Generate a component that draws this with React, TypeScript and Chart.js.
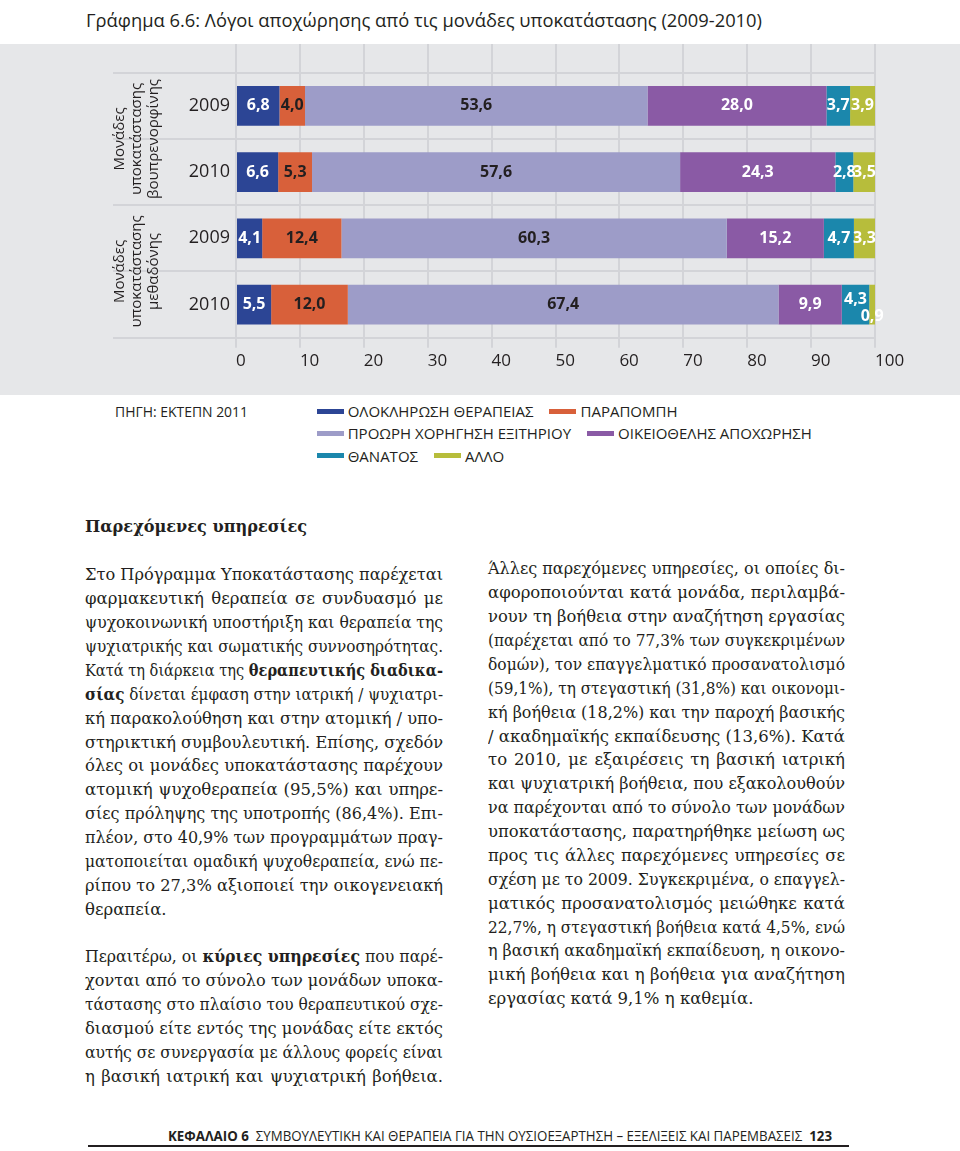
import React, { useEffect, useLayoutEffect, useRef } from 'react';
import { Chart, registerables } from 'chart.js';

Chart.register(...registerables);

const SANS = '"Open Sans", "Noto Sans", sans-serif';
const SERIF = '"DejaVu Serif", serif';
const INK = '#231f20';
const BG = '#e6e7e9';
const GRID = '#d3d4d8';

// ---------- chart data ----------
const chartTitle = 'Γράφημα 6.6: Λόγοι αποχώρησης από τις μονάδες υποκατάστασης (2009-2010)';
const categories = ['2009', '2010', '2009', '2010'];
const groupLabels = [
  ['Μονάδες', 'υποκατάστασης', 'βουπρενορφίνης'],
  ['Μονάδες', 'υποκατάστασης', 'μεθαδόνης'],
];
const seriesNames = [
  'ΟΛΟΚΛΗΡΩΣΗ ΘΕΡΑΠΕΙΑΣ',
  'ΠΑΡΑΠΟΜΠΗ',
  'ΠΡΟΩΡΗ ΧΟΡΗΓΗΣΗ ΕΞΙΤΗΡΙΟΥ',
  'ΟΙΚΕΙΟΘΕΛΗΣ ΑΠΟΧΩΡΗΣΗ',
  'ΘΑΝΑΤΟΣ',
  'ΑΛΛΟ',
];
const completion = [6.8, 6.6, 4.1, 5.5];
const referral = [4.0, 5.3, 12.4, 12.0];
const earlyDischarge = [53.6, 57.6, 60.3, 67.4];
const voluntaryLeave = [28.0, 24.3, 15.2, 9.9];
const death = [3.7, 2.8, 4.7, 4.3];
const other = [3.9, 3.5, 3.3, 0.9];
const seriesValues = [completion, referral, earlyDischarge, voluntaryLeave, death, other];
const seriesColors = ['#2c4595', '#d8603a', '#9d9cc8', '#8a5aa5', '#1b87ac', '#b7bd3b'];
const labelColors = ['#ffffff', INK, INK, '#ffffff', '#ffffff', '#ffffff'];
const xMin = 0;
const xMax = 100;
const xStep = 10;
const sourceText = 'ΠΗΓΗ: ΕΚΤΕΠΝ 2011';
const legendRows = [[0, 1], [2, 3], [4, 5]];

// ---------- page text ----------
const heading = 'Παρεχόμενες υπηρεσίες';
const column1 = [
  'Στο Πρόγραμμα Υποκατάστασης παρέχεται',
  'φαρμακευτική θεραπεία σε συνδυασμό με',
  'ψυχοκοινωνική υποστήριξη και θεραπεία της',
  'ψυχιατρικής και σωματικής συννοσηρότητας.',
  'Κατά τη διάρκεια της **θεραπευτικής διαδικα-**',
  '**σίας** δίνεται έμφαση στην ιατρική / ψυχιατρι-',
  'κή παρακολούθηση και στην ατομική / υπο-',
  'στηρικτική συμβουλευτική. Επίσης, σχεδόν',
  'όλες οι μονάδες υποκατάστασης παρέχουν',
  'ατομική ψυχοθεραπεία (95,5%) και υπηρε-',
  'σίες πρόληψης της υποτροπής (86,4%). Επι-',
  'πλέον, στο 40,9% των προγραμμάτων πραγ-',
  'ματοποιείται ομαδική ψυχοθεραπεία, ενώ πε-',
  'ρίπου το 27,3% αξιοποιεί την οικογενειακή',
  'θεραπεία.~',
  '',
  'Περαιτέρω, οι **κύριες υπηρεσίες** που παρέ-',
  'χονται από το σύνολο των μονάδων υποκα-',
  'τάστασης στο πλαίσιο του θεραπευτικού σχε-',
  'διασμού είτε εντός της μονάδας είτε εκτός',
  'αυτής σε συνεργασία με άλλους φορείς είναι',
  'η βασική ιατρική και ψυχιατρική βοήθεια.',
];
const column2 = [
  'Άλλες παρεχόμενες υπηρεσίες, οι οποίες δι-',
  'αφοροποιούνται κατά μονάδα, περιλαμβά-',
  'νουν τη βοήθεια στην αναζήτηση εργασίας',
  '(παρέχεται από το 77,3% των συγκεκριμένων',
  'δομών), τον επαγγελματικό προσανατολισμό',
  '(59,1%), τη στεγαστική (31,8%) και οικονομι-',
  'κή βοήθεια (18,2%) και την παροχή βασικής',
  '/ ακαδημαϊκής εκπαίδευσης (13,6%). Κατά',
  'το 2010, με εξαιρέσεις τη βασική ιατρική',
  'και ψυχιατρική βοήθεια, που εξακολουθούν',
  'να παρέχονται από το σύνολο των μονάδων',
  'υποκατάστασης, παρατηρήθηκε μείωση ως',
  'προς τις άλλες παρεχόμενες υπηρεσίες σε',
  'σχέση με το 2009. Συγκεκριμένα, ο επαγγελ-',
  'ματικός προσανατολισμός μειώθηκε κατά',
  '22,7%, η στεγαστική βοήθεια κατά 4,5%, ενώ',
  'η βασική ακαδημαϊκή εκπαίδευση, η οικονο-',
  'μική βοήθεια και η βοήθεια για αναζήτηση',
  'εργασίας κατά 9,1% η καθεμία.~',
];
const footerBold = 'ΚΕΦΑΛΑΙΟ 6';
const footerText = 'ΣΥΜΒΟΥΛΕΥΤΙΚΗ ΚΑΙ ΘΕΡΑΠΕΙΑ ΓΙΑ ΤΗΝ ΟΥΣΙΟΕΞΑΡΤΗΣΗ – ΕΞΕΛΙΞΕΙΣ ΚΑΙ ΠΑΡΕΜΒΑΣΕΙΣ';
const pageNumber = '123';

// ---------- plugins ----------
const fmt = (v: number) => v.toFixed(1).replace('.', ',');
const labelNudges: Record<string, [number, number]> = { '4-3': [0, -5], '5-3': [0, 12] };

const valueLabelsPlugin = {
  id: 'valueLabels',
  afterDatasetsDraw(chart: any) {
    const ctx = chart.ctx;
    ctx.save();
    ctx.font = `bold 16px ${SANS}`;
    ctx.textAlign = 'center';
    ctx.textBaseline = 'middle';
    chart.data.datasets.forEach((ds: any, di: number) => {
      const meta = chart.getDatasetMeta(di);
      meta.data.forEach((el: any, i: number) => {
        const p = el.getProps(['x', 'y', 'base'], true);
        let cx = (p.x + p.base) / 2;
        let cy = p.y;
        const n = labelNudges[`${di}-${i}`];
        if (n) { cx += n[0]; cy += n[1]; }
        ctx.fillStyle = labelColors[di];
        ctx.fillText(fmt(ds.data[i]), cx, cy);
      });
    });
    ctx.restore();
  },
};

const groupLabelsPlugin = {
  id: 'groupLabels',
  afterDraw(chart: any) {
    const y = chart.scales.y;
    const ctx = chart.ctx;
    ctx.save();
    ctx.font = `15px ${SANS}`;
    ctx.fillStyle = INK;
    ctx.textAlign = 'center';
    ctx.textBaseline = 'middle';
    groupLabels.forEach((lines, g) => {
      const cy = (y.getPixelForValue(2 * g) + y.getPixelForValue(2 * g + 1)) / 2;
      const cx = y.left + 136.5;
      ctx.save();
      ctx.translate(cx, cy);
      ctx.rotate(-Math.PI / 2);
      lines.forEach((t, k) => ctx.fillText(t, 0, (k - (lines.length - 1) / 2) * 17));
      ctx.restore();
    });
    ctx.restore();
  },
};

function ChartBlock() {
  const ref = useRef<HTMLCanvasElement>(null);
  useEffect(() => {
    const chart = new Chart(ref.current as HTMLCanvasElement, {
      type: 'bar',
      data: {
        labels: categories,
        datasets: seriesValues.map((vals, i) => ({
          label: seriesNames[i],
          data: vals,
          backgroundColor: seriesColors[i],
          borderWidth: 0,
          barPercentage: 0.6,
          categoryPercentage: 1,
          xAxisID: 'x',
          yAxisID: 'y',
        })),
      },
      options: {
        indexAxis: 'y',
        animation: false,
        responsive: false,
        maintainAspectRatio: false,
        layout: { padding: { left: 0, right: 85, top: 0, bottom: 0 } },
        plugins: { legend: { display: false }, tooltip: { enabled: false }, title: { display: false } },
        scales: {
          x: {
            type: 'linear',
            position: 'bottom',
            stacked: true,
            min: xMin,
            max: xMax,
            ticks: { stepSize: xStep, align: 'start', padding: 3, color: INK, font: { family: SANS, size: 17 } },
            grid: { color: GRID, lineWidth: 2, tickLength: 10, drawTicks: true },
            border: { display: false },
            afterFit: (s: any) => { s.height = 57.3; s.paddingLeft = 0; s.paddingRight = 0; },
          },
          xTop: {
            type: 'linear',
            position: 'top',
            min: xMin,
            max: xMax,
            ticks: { display: false, stepSize: xStep },
            grid: { color: GRID, lineWidth: 2, tickLength: 28.7, drawTicks: true, drawOnChartArea: false },
            border: { display: false },
            afterFit: (s: any) => { s.height = 28.7; s.paddingLeft = 0; s.paddingRight = 0; },
          },
          y: {
            type: 'category',
            stacked: true,
            offset: true,
            ticks: { padding: -117, color: INK, font: { family: SANS, size: 18 } },
            grid: { offset: true, color: GRID, lineWidth: 2, tickLength: 123, drawTicks: true },
            border: { display: false },
            afterFit: (s: any) => { s.width = 236; s.paddingTop = 0; s.paddingBottom = 0; },
          },
        },
      } as any,
      plugins: [valueLabelsPlugin, groupLabelsPlugin],
    });
    return () => chart.destroy();
  }, []);
  return (
    <div style={{ position: 'absolute', left: 0, top: 44, width: 960, height: 351, background: BG }}>
      <canvas ref={ref} width={960} height={351} style={{ display: 'block', width: 960, height: 351 }} />
    </div>
  );
}

function rich(s: string) {
  return s.split('**').map((p, i) => (i % 2 ? <b key={i}>{p}</b> : <React.Fragment key={i}>{p}</React.Fragment>));
}

function Column({ lines, left, top, width, lh }: { lines: string[]; left: number; top: number; width: number; lh: number }) {
  return (
    <div style={{ position: 'absolute', left, top, width, font: `16.5px ${SERIF}`, lineHeight: `${lh}px`, color: INK }}>
      {lines.map((raw, i) => {
        const ragged = raw.endsWith('~');
        const text = ragged ? raw.slice(0, -1) : raw;
        return (
          <div key={i} data-fit={ragged ? 'left' : 'just'} data-w={width}
            style={{ height: lh, width, whiteSpace: 'nowrap', textAlign: 'left' }}>
            <span style={{ transformOrigin: '0 50%' }}>{rich(text)}</span>
          </div>
        );
      })}
    </div>
  );
}

export default function App() {
  const root = useRef<HTMLDivElement>(null);
  useLayoutEffect(() => {
    const run = () => {
      const els = root.current ? Array.from(root.current.querySelectorAll('[data-fit]')) as HTMLElement[] : [];
      els.forEach((el) => {
        const mode = el.dataset.fit;
        const W = parseFloat(el.dataset.w || '0');
        const span = el.firstElementChild as HTMLElement;
        if (!span) return;
        span.style.transform = '';
        span.style.display = 'inline';
        el.style.textAlign = 'left';
        (el.style as any).textAlignLast = 'left';
        const nat = span.getBoundingClientRect().width;
        if (!nat) return;
        if (mode === 'scale') {
          span.style.display = 'inline-block';
          span.style.transform = `scaleX(${W / nat})`;
        } else if (mode === 'just') {
          if (nat > W) {
            span.style.display = 'inline-block';
            span.style.transform = `scaleX(${W / nat})`;
          } else {
            el.style.textAlign = 'justify';
            (el.style as any).textAlignLast = 'justify';
          }
        } else if (mode === 'left') {
          if (nat > W) {
            span.style.display = 'inline-block';
            span.style.transform = `scaleX(${W / nat})`;
          }
        }
      });
    };
    run();
    if ((document as any).fonts && (document as any).fonts.ready) (document as any).fonts.ready.then(run);
  }, []);

  return (
    <div ref={root} style={{ position: 'relative', width: 960, height: 1151, overflow: 'hidden', background: '#fff', color: INK }}>
      <style>{'html,body{margin:0;padding:0;background:#fff;}'}</style>

      <div data-fit="scale" data-w="676"
        style={{ position: 'absolute', left: 86, top: 7, whiteSpace: 'nowrap', font: `19px ${SANS}`, lineHeight: '26px' }}>
        <span style={{ transformOrigin: '0 50%' }}>{chartTitle}</span>
      </div>

      <ChartBlock />

      <div data-fit="scale" data-w="133"
        style={{ position: 'absolute', left: 115, top: 400.1, font: `15px ${SANS}`, lineHeight: '22.3px', whiteSpace: 'nowrap' }}>
        <span style={{ transformOrigin: '0 50%' }}>{sourceText}</span>
      </div>
      <div style={{ position: 'absolute', left: 316.7, top: 400.1, font: `15px ${SANS}`, lineHeight: '22.3px', whiteSpace: 'nowrap' }}>
        {legendRows.map((row, r) => (
          <div key={r} style={{ display: 'flex', alignItems: 'center', height: 22.3 }}>
            {row.map((i) => (
              <div key={i} style={{ display: 'flex', alignItems: 'center', marginRight: 16 }}>
                <span style={{ display: 'inline-block', width: 27, height: 5, background: seriesColors[i], marginRight: 4 }} />
                <span>{seriesNames[i]}</span>
              </div>
            ))}
          </div>
        ))}
      </div>

      <div data-fit="scale" data-w="222"
        style={{ position: 'absolute', left: 85, top: 514, whiteSpace: 'nowrap', font: `bold 17px ${SERIF}`, lineHeight: '24px' }}>
        <span style={{ transformOrigin: '0 50%' }}>{heading}</span>
      </div>

      <Column lines={column1} left={85} top={563.4} width={358} lh={23.88} />
      <Column lines={column2} left={488} top={557.4} width={357} lh={23.88} />

      <div data-fit="scale" data-w="664"
        style={{ position: 'absolute', left: 168, top: 1125.6, whiteSpace: 'nowrap', font: `14px ${SANS}`, lineHeight: '20px' }}>
        <span style={{ transformOrigin: '0 50%' }}>
          <b>{footerBold}</b>{'\u00a0\u00a0'}{footerText}{'\u00a0\u00a0'}<b>{pageNumber}</b>
        </span>
      </div>
      <div style={{ position: 'absolute', left: 88, top: 1145, width: 761, height: 2, background: INK }} />
    </div>
  );
}
